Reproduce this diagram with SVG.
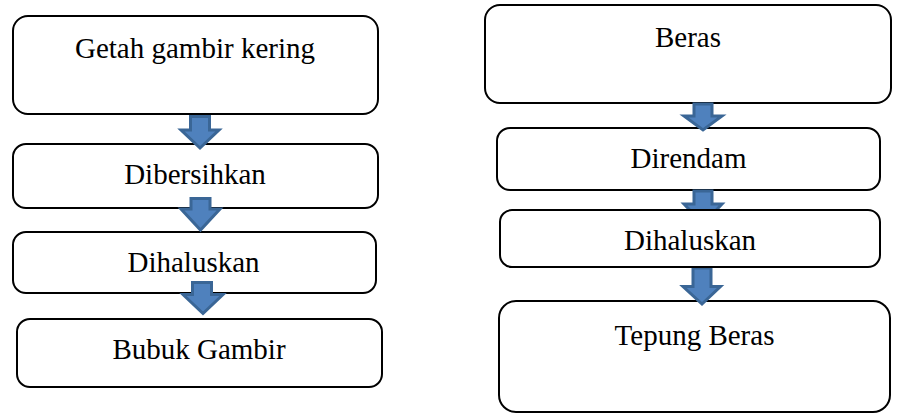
<svg xmlns="http://www.w3.org/2000/svg" width="897" height="413" viewBox="0 0 897 413">
  <style>
    .box { fill: #ffffff; stroke: #000000; stroke-width: 2; }
    .lbl { font-family: "Liberation Serif", "Times New Roman", serif; font-size: 29px; fill: #000000; text-anchor: middle; }
    .arr { fill: #4f81bd; stroke: #3a6696; stroke-width: 3; stroke-linejoin: miter; }
  </style>
  <rect width="897" height="413" fill="#ffffff"/>
  <g id="node-getah">
    <rect class="box" x="13" y="16" width="365" height="98" rx="15"/>
    <text class="lbl" x="195" y="58">Getah gambir kering</text>
  </g>
  <g id="node-dibersihkan">
    <rect class="box" x="13" y="144" width="365" height="64" rx="13"/>
    <text class="lbl" x="195" y="184">Dibersihkan</text>
  </g>
  <g id="node-dihaluskan-left">
    <rect class="box" x="13" y="232" width="363" height="61" rx="13"/>
    <text class="lbl" x="193.5" y="271.5">Dihaluskan</text>
  </g>
  <g id="node-bubuk">
    <rect class="box" x="17" y="319" width="365" height="68" rx="13"/>
    <text class="lbl" x="199" y="359">Bubuk Gambir</text>
  </g>
  <g id="node-beras">
    <rect class="box" x="485" y="5" width="406" height="98" rx="15"/>
    <text class="lbl" x="688" y="46.5">Beras</text>
  </g>
  <g id="node-direndam">
    <rect class="box" x="497" y="128" width="383" height="62" rx="13"/>
    <text class="lbl" x="688.5" y="167.5">Direndam</text>
  </g>
  <g id="node-tepung">
    <rect class="box" x="499" y="301" width="391" height="111" rx="17"/>
    <text class="lbl" x="694.5" y="345">Tepung Beras</text>
  </g>
  <g id="connectors">
    <path class="arr" d="M190.5 116.5 H209.5 V130 H219 L200 148 L181 130 H190.5 Z"/>
    <path class="arr" d="M191 198.5 H210 V209 H220 L200.5 230 L181 209 H191 Z"/>
    <path class="arr" d="M192.5 282.5 H211.5 V294.5 H223 L203 313.5 L183 294.5 H192.5 Z"/>
    <path class="arr" d="M694 104 H712 V116 H722 L703 130 L684 116 H694 Z"/>
    <path class="arr" d="M694 191 H712 V204 H722 L703 224 L684 204 H694 Z"/>
    <path class="arr" d="M693 268 H711 V286.5 H720.5 L702 304 L683 286.5 H693 Z"/>
  </g>
  <g id="node-dihaluskan-right">
    <rect class="box" x="500" y="210" width="380" height="57" rx="12"/>
    <text class="lbl" x="690" y="250">Dihaluskan</text>
  </g>
</svg>
